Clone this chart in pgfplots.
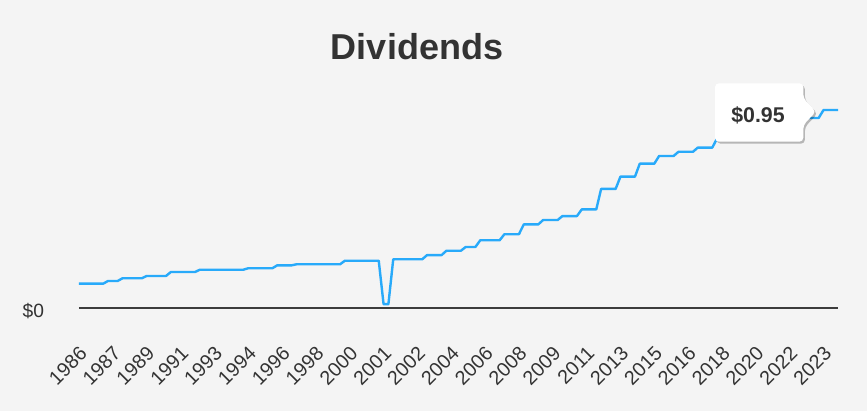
\documentclass[border=0pt]{standalone}
\usepackage{pgfplots}
\pgfplotsset{compat=1.18}
\usepackage{fontspec}
\setmainfont{Liberation Sans}
\usetikzlibrary{shadows}
\definecolor{bg}{RGB}{244,244,244}
\definecolor{serie}{RGB}{40,170,250}
\definecolor{txt}{RGB}{51,51,51}
\definecolor{axisc}{RGB}{60,60,60}
\begin{document}
\begin{tikzpicture}
\useasboundingbox (0,0) rectangle (650.25pt,-308.25pt);
\fill[bg] (0,0) rectangle (650.25pt,-308.25pt);
\begin{axis}[
  at={(59.25pt,-231.23pt)}, anchor=south west,
  scale only axis, width=569.25pt, height=156.53pt,
  xmin=0, xmax=157, ymin=0, ymax=1,
  clip=false,
  axis x line*=bottom, axis y line*=left,
  y axis line style={draw=none},
  x axis line style={-, draw=axisc, line width=1.5pt},
  major tick length=0pt,
  /pgf/number format/assume math mode=true,
  ytick={0}, yticklabels={\$0},
  yticklabel style={anchor=east, inner sep=0pt, xshift=-26pt, yshift=-2.3pt,
    font=\fontsize{14.4}{16}\selectfont, text=txt},
  xtick={0,7,...,154},
  xticklabels={1986,1987,1989,1991,1993,1994,1996,1998,2000,2001,2002,2004,2006,2008,2009,2011,2013,2015,2016,2018,2020,2022,2023},
  xticklabel style={xshift=-0.5pt, yshift=-27.5pt, rotate=45, anchor=north east, inner sep=0pt,
    font=\fontsize{14.8}{16}\selectfont, text=txt},
]
\addplot[serie, line width=1.8pt, line join=round] coordinates {
(0,0.118) (5,0.118) (6,0.131) (8,0.131) (9,0.144) (13,0.144) (14,0.155) (18,0.155)
(19,0.174) (24,0.174) (25,0.185) (34,0.185) (35,0.192) (40,0.192) (41,0.206) (44,0.206)
(45,0.211) (54,0.211) (55,0.228) (62,0.228) (63,0.02) (64,0.02) (65,0.235) (71,0.235)
(72,0.255) (75,0.255) (76,0.276) (79,0.276) (80,0.294) (82,0.294) (83,0.326) (87,0.326)
(88,0.355) (91,0.355) (92,0.402) (95,0.402) (96,0.423) (99,0.423) (100,0.442) (103,0.442)
(104,0.474) (107,0.474) (108,0.572) (111,0.572) (112,0.631) (115,0.631) (116,0.693) (119,0.693)
(120,0.730) (123,0.730) (124,0.750) (127,0.750) (128,0.770) (131,0.770) (132,0.815) (135,0.815)
(136,0.840) (139,0.840) (140,0.865) (143,0.865) (144,0.890) (148,0.890) (149,0.912) (153,0.912)
(154,0.95) (157,0.95)
};
\end{axis}
\node[font=\bfseries\fontsize{27}{32}\selectfont, text=txt] at (312.75pt,-35.25pt) {Dividends};
\begin{scope}[x=0.75pt,y=-0.75pt]
\fill[white, rounded corners=3pt, drop shadow={shadow xshift=1.2pt, shadow yshift=-1.5pt, opacity=0.25, fill=black}]
 (715,83.3) -- (803.3,83.3) -- (803.3,98.3) -- (816,111.7) -- (803.3,125) -- (803.3,141.7) -- (715,141.7) -- cycle;
\node[font=\bfseries\fontsize{16}{19}\selectfont, text=txt] at (758,115.5) {\$0.95};
\end{scope}
\end{tikzpicture}
\end{document}
